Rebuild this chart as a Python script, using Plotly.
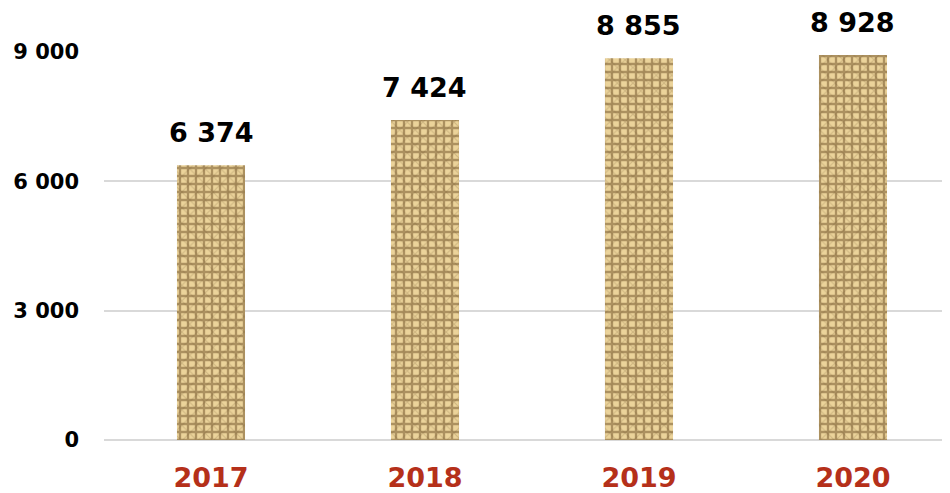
import plotly.graph_objects as go

years = ["2017", "2018", "2019", "2020"]
values = [6374, 7424, 8855, 8928]
y_ticks = [0, 3000, 6000, 9000]
y_tick_labels = ["0", "3 000", "6 000", "9 000"]
value_labels = ["6 374", "7 424", "8 855", "8 928"]

FONT = "DejaVu Sans"

fig = go.Figure()
fig.add_trace(go.Bar(
    x=years, y=values, width=0.318,
    marker=dict(
        color="#d2b57c",
        line=dict(width=0),
        pattern=dict(shape="+", fgcolor="#6e4f26", bgcolor="#ebd39a", size=8, solidity=0.5),
    ),
    hoverinfo="skip",
))
fig.add_trace(go.Bar(
    x=years, y=values, width=0.318,
    marker=dict(
        color="rgba(0,0,0,0)",
        line=dict(width=0),
        pattern=dict(shape="x", fgcolor="rgba(110,80,40,0.45)", bgcolor="rgba(0,0,0,0)", size=11, solidity=0.2),
    ),
    hoverinfo="skip",
))

for i, (v, lab) in enumerate(zip(values, value_labels)):
    fig.add_annotation(x=i, y=v, xref="x", yref="y", text=lab, showarrow=False,
                       yanchor="bottom", yshift=15,
                       font=dict(family=FONT, size=27, color="#000000", weight="bold"))

fig.update_layout(
    width=942, height=485,
    margin=dict(l=96, r=2, t=44, b=53),
    paper_bgcolor="white", plot_bgcolor="white",
    barmode="overlay", showlegend=False,
    font=dict(family=FONT),
)
fig.update_xaxes(
    type="category", range=[-0.5, 3.444], automargin=False,
    showgrid=False, showline=False, zeroline=False,
    tickfont=dict(family=FONT, size=27, color="#b5301a", weight="bold"),
    ticklabelstandoff=19,
)
fig.update_yaxes(
    range=[0, 9000], tickvals=y_ticks, ticktext=y_tick_labels, automargin=False,
    showgrid=True, gridcolor="#d9d9d9", gridwidth=2,
    zeroline=True, zerolinecolor="#d9d9d9", zerolinewidth=2,
    showline=False,
    tickfont=dict(family=FONT, size=21, color="#000000", weight="bold"),
    ticklabelstandoff=24,
)
fig.update_traces(cliponaxis=False)
fig.write_html("out.html")
